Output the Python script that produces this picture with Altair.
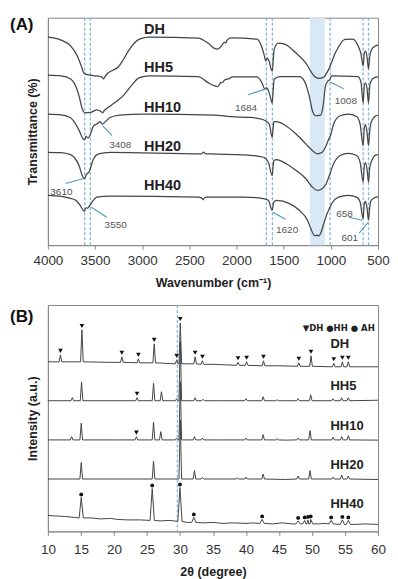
import altair as alt
import pandas as pd

# ---------------- Panel A: FTIR (wavenumber, transmittance in arbitrary offset units) ----------------
samples = ["DH", "HH5", "HH10", "HH20", "HH40"]

dh_wn = [4000, 3860, 3757, 3688, 3646, 3619, 3567, 3480, 3430, 3410, 3390, 3376, 3307, 3255, 3203, 3134, 3030, 2926,
         2407, 2303, 2240, 2200, 2160, 2130, 2115, 2100, 2061, 1784, 1740, 1710, 1690, 1675, 1655, 1630, 1620, 1610,
         1600, 1559, 1490, 1369, 1265, 1178, 1127, 1075, 1023, 953, 850, 763, 711, 680, 658, 645, 632, 615, 601, 588,
         565, 530, 500]
dh_t = [209, 206, 200, 190, 180, 173, 171, 170, 169, 167, 170, 171.7, 176, 179, 186, 197, 207, 209,
        208, 203, 198, 197, 200, 204, 203, 206, 208.3, 207, 201, 192, 185, 188, 185, 176, 175, 188,
        197, 203, 202, 193, 183, 170, 167.5, 169, 176.7, 193, 206.7, 207, 200, 192, 180, 193, 195, 188, 177, 190,
        197, 200, 201]

hh5_wn = [4000, 3860, 3760, 3722, 3670, 3636, 3610, 3549, 3480, 3440, 3420, 3400, 3376, 3290, 3203, 3117, 3030, 2926,
          2407, 2303, 2234, 2200, 2165, 2140, 2131, 2079, 2044, 1784, 1732, 1700, 1684, 1670, 1645, 1622, 1612, 1601,
          1542, 1334, 1282, 1230, 1196, 1161, 1109, 1082, 1057, 1030, 1012, 1000, 988, 711, 680, 658, 645, 632, 615,
          601, 588, 573, 538, 500]
hh5_t = [170.7, 170, 167, 163, 150, 137, 133, 133.3, 136, 134.5, 133, 135.5, 137.3, 143.3, 150, 160, 168.3, 170,
         169.3, 163.3, 160, 159.3, 163.3, 164, 165.7, 167.3, 169, 169, 163.3, 157, 158, 157, 150, 142.7, 155, 166.7,
         169.3, 169.3, 165, 150, 135, 130, 130.7, 140, 160, 165, 166, 169, 170, 169.3, 163, 142.7, 160, 163, 156,
         142.7, 160, 165, 168.3, 169]

hh10_wn = [4000, 3860, 3760, 3722, 3660, 3630, 3610, 3595, 3575, 3555, 3515, 3480, 3445, 3425, 3408, 3380, 3342, 3238,
           2995, 2234, 2061, 1854, 1715, 1684, 1653, 1622, 1612, 1604, 1577, 1490, 1369, 1265, 1196, 1144, 1092, 1050,
           1020, 1008, 971, 902, 815, 728, 690, 658, 645, 632, 615, 601, 588, 573, 521, 500]
hh10_t = [131.7, 131, 128, 124, 113.3, 107, 106, 109.3, 107.5, 110, 120, 121.7, 124, 121.7, 122.5, 125, 128.3, 130.7,
          131.7, 130.7, 129, 128.3, 126, 124.5, 121.7, 108.3, 118, 124, 124, 120.7, 111.7, 101.7, 95, 91.7, 93.3, 100,
          107, 109, 121.7, 130, 131.7, 129.3, 121.7, 100, 118, 121, 112, 100, 115, 123.3, 130, 130.5]

hh20_wn = [4000, 3860, 3760, 3722, 3670, 3636, 3612, 3595, 3575, 3560, 3549, 3515, 3463, 3342, 2372, 2350, 2330, 2269,
           1923, 1715, 1663, 1622, 1612, 1604, 1577, 1473, 1369, 1265, 1196, 1144, 1092, 1050, 1016, 971, 902, 815,
           728, 690, 658, 645, 632, 615, 601, 588, 573, 521, 500]
hh20_t = [93.3, 93, 91, 88.3, 80, 70, 66.7, 70.5, 72.5, 74, 77.3, 86.7, 91.7, 93.3, 91.7, 93.5, 92, 91.7,
          90.7, 88.3, 83.3, 70, 80, 85, 86, 81.7, 75, 66.7, 58.3, 55, 56.7, 61.7, 70, 81.7, 90, 92.3,
          90, 83.3, 63.3, 80, 83, 75, 63.3, 78, 83.3, 90.7, 91]

hh40_wn = [4000, 3860, 3760, 3705, 3653, 3615, 3595, 3580, 3567, 3532, 3480, 3342, 2407, 2370, 2355, 2340, 2320, 2269,
           1923, 1715, 1663, 1622, 1612, 1604, 1577, 1438, 1334, 1248, 1213, 1178, 1160, 1144, 1130, 1109, 1075, 1040,
           1016, 981, 919, 815, 728, 690, 658, 645, 632, 615, 601, 588, 573, 521, 500]
hh40_t = [50, 49, 47, 45, 39.3, 34, 37.5, 37, 38.3, 43.3, 48.3, 49.3, 48.3, 47.5, 45.5, 47.5, 48.3, 48.3,
          48.3, 46.7, 45, 35, 40, 43.3, 45, 41.7, 35, 25, 16.7, 10, 9.5, 10, 9, 11.7, 21.7, 31.7,
          36.7, 43.3, 48.3, 50, 48.3, 43.3, 26.7, 42, 44, 36, 25, 38, 45, 48.3, 48.5]

ftir_wn = [dh_wn, hh5_wn, hh10_wn, hh20_wn, hh40_wn]
ftir_t = [dh_t, hh5_t, hh10_t, hh20_t, hh40_t]

ftir_label_y = [212, 173.5, 133.5, 95, 55]
ftir_label_x = 2980

dashed_wn = [3610, 3550, 1684, 1620, 1008, 658, 601]
band_wn = [1222, 1065]

ann_text = ["3408", "3610", "3550", "1684", "1008", "1620", "658", "601"]
ann_tx = [3233, 3857, 3281, 1900, 841, 1464, 856, 800]
ann_ty = [101, 53, 20, 138, 145, 15, 31, 7]
lead_x1 = [3420, 3810, 3540, 1880, 1010, 1615, 810, 700]
lead_y1 = [120, 62, 38, 151, 164, 33, 28, 12]
lead_x2 = [3320, 3620, 3375, 1690, 860, 1480, 665, 604]
lead_y2 = [110, 67, 28, 157, 157, 26, 25, 23]

# ---------------- Panel B: XRD (2theta, intensity in offset units) ----------------
xrd_anchor_x = {
    "DH": [10, 19, 35, 45, 60],
    "HH5": [10, 20, 36, 46, 60],
    "HH10": [10, 20, 36, 46, 60],
    "HH20": [10, 20, 36, 46, 60],
    "HH40": [10, 11, 12.5, 14, 16.5, 18, 19.5, 20.5, 22, 24, 27, 28.5, 31, 33.5, 35, 36.5, 38, 40, 41, 44, 45.5,
             47, 51, 52, 56.5, 58, 60],
}
xrd_anchor_y = {
    "DH": [170, 169.5, 167.5, 166, 165],
    "HH5": [131, 131, 131, 131, 131.5],
    "HH10": [91.7, 91.7, 91.7, 91.5, 91.5],
    "HH20": [52.5, 52.5, 52.5, 52, 52],
    "HH40": [16, 15.5, 15, 14, 13.5, 12.5, 13, 12, 11.5, 11.5, 10.5, 11, 9, 8.5, 9, 8, 8.5, 8, 8.5, 7.5, 8.5,
             7.5, 7.5, 8, 7, 7.5, 7],
}
xrd_peak_pos = {
    "DH": [11.9, 15.15, 21.2, 23.7, 26.1, 29.5, 30.05, 32.3, 33.4, 38.8, 40.1, 42.65, 48.0, 49.85, 53.3, 54.6, 55.5],
    "HH5": [13.7, 15.1, 23.5, 26.0, 27.2, 29.5, 30.05, 32.3, 33.5, 40.0, 42.6, 44.7, 47.9, 49.8, 53.2, 54.5, 55.5],
    "HH10": [13.6, 15.05, 23.4, 26.0, 27.1, 29.5, 30.05, 32.2, 33.4, 40.0, 42.6, 44.7, 47.9, 49.7, 53.2, 54.5, 55.5],
    "HH20": [15.05, 26.0, 30.05, 32.2, 33.4, 38.7, 40.0, 42.6, 47.9, 49.7, 53.2, 54.5, 55.5],
    "HH40": [15.05, 25.8, 30.0, 32.1, 42.45, 47.9, 48.9, 49.4, 49.8, 52.9, 54.6, 55.5],
}
xrd_peak_top = {
    "DH": [177, 202, 175, 173, 188, 172, 209, 175, 171, 169.5, 170, 171, 169, 176, 168.5, 170, 170],
    "HH5": [134, 150, 134, 148.5, 140, 133, 190, 134, 132.5, 133, 135, 132, 133, 137, 133, 134, 134],
    "HH10": [95, 108.5, 95, 109.5, 100, 93.5, 150, 95, 93.5, 93.5, 97, 93, 93.5, 101, 94.5, 95, 96],
    "HH20": [69, 70.5, 112, 61, 54, 53.5, 54.5, 57.5, 55.5, 61, 54.5, 56.5, 55.5],
    "HH40": [34, 43, 44, 14, 12, 10.5, 11, 11.5, 12, 11, 11.5, 11],
}
xrd_peak_base = {
    "DH": [170, 170, 169.5, 169, 169, 168, 168, 168, 167.5, 166.5, 166.5, 166, 165.5, 165.5, 165, 165, 165],
    "HH5": [131] * 17,
    "HH10": [91.7] * 17,
    "HH20": [52.5] * 13,
    "HH40": [13.5, 11, 10, 9, 8, 7.5, 7.5, 7.5, 7.5, 7.5, 7, 7],
}
dh_mark_pos = xrd_peak_pos["DH"]
hh5_mark_pos = [23.5]
hh10_mark_pos = [23.4]
hh40_mark_pos = xrd_peak_pos["HH40"]
xrd_label_y = [183.5, 141.7, 101.7, 62.3, 23.3]
xrd_label_x = 52.8
xrd_dashed = [29.6]

# ---------------- build tables ----------------
FONT = "Liberation Sans"
LINE = "#444444"
BLUE_DASH = "#86b6d9"
LEAD = "#4f9ab8"

rows = []
for s, wn, t in zip(samples, ftir_wn, ftir_t):
    for a, b in zip(wn, t):
        rows.append({"s": s, "x": a, "y": b})
ftir_df = pd.DataFrame(rows)

W = 331
xA = alt.Scale(domain=[4000, 500], nice=False, zero=False)
yA = alt.Scale(domain=[0, 228.5], nice=False, zero=False)
axA_x = alt.Axis(values=[4000, 3500, 3000, 2500, 2000, 1500, 1000, 500], title="Wavenumber (cm\u207b\u00b9)",
                 grid=False, labelFontSize=13.5, labelColor="#333", labelFont=FONT, tickSize=4,
                 tickColor="#888", domainColor="#888", labelPadding=4, titleFont=FONT, titleFontSize=12.5,
                 titleFontWeight="bold", titleColor="#222", titlePadding=9.5, format="d", labelFlush=False)
axA_y = alt.Axis(labels=False, ticks=False, grid=False, title="Transmittance (%)", titleFont=FONT,
                 titleFontSize=12.5, titleFontWeight="bold", titleColor="#222", domainColor="#888", titlePadding=8)

HA = 228
band = alt.Chart(pd.DataFrame({"x": [band_wn[0]], "x2": [band_wn[1]]})).mark_rect(
    color="#d8e8f5").encode(x=alt.X("x:Q", scale=xA, axis=axA_x), x2="x2:Q", y=alt.value(0), y2=alt.value(HA))
dashA = alt.Chart(pd.DataFrame({"x": dashed_wn})).mark_rule(
    color=BLUE_DASH, strokeDash=[3, 2], strokeWidth=1.3).encode(x=alt.X("x:Q", scale=xA, axis=axA_x),
                                                                 y=alt.value(0), y2=alt.value(HA))
linesA = alt.Chart(ftir_df).mark_line(color=LINE, strokeWidth=1.25, interpolate="monotone").encode(
    x=alt.X("x:Q", scale=xA, axis=axA_x), y=alt.Y("y:Q", scale=yA, axis=axA_y), detail="s:N", order="x:Q")
labA = alt.Chart(pd.DataFrame({"x": [ftir_label_x] * 5, "y": ftir_label_y, "t": samples})).mark_text(
    align="left", baseline="alphabetic", font=FONT, fontSize=14.5, fontWeight="bold", color="#222").encode(
    x=alt.X("x:Q", scale=xA, axis=axA_x), y=alt.Y("y:Q", scale=yA, axis=axA_y), text="t:N")
leadA = alt.Chart(pd.DataFrame({"x": lead_x1, "y": lead_y1, "x2": lead_x2, "y2": lead_y2})).mark_rule(
    color=LEAD, strokeWidth=1.1).encode(x=alt.X("x:Q", scale=xA, axis=axA_x), y=alt.Y("y:Q", scale=yA, axis=axA_y),
                                        x2="x2:Q", y2="y2:Q")
annA = alt.Chart(pd.DataFrame({"x": ann_tx, "y": ann_ty, "t": ann_text})).mark_text(
    align="center", baseline="middle", font=FONT, fontSize=10, color="#555").encode(
    x=alt.X("x:Q", scale=xA, axis=axA_x), y=alt.Y("y:Q", scale=yA, axis=axA_y), text="t:N")
tagA = alt.Chart(pd.DataFrame({"t": ["(A)"]})).mark_text(
    align="left", baseline="alphabetic", font=FONT, fontSize=17, fontWeight="bold", color="#111").encode(
    x=alt.value(-38), y=alt.value(12), text="t:N")

panelA = alt.layer(band, dashA, linesA, leadA, annA, labA, tagA).properties(width=W, height=HA)

# XRD tables
xrd_rows = []
for s in samples:
    hw = 0.32 if s == "HH40" else 0.2
    pts = list(zip(xrd_anchor_x[s], xrd_anchor_y[s]))
    for p, t, b in zip(xrd_peak_pos[s], xrd_peak_top[s], xrd_peak_base[s]):
        pts += [(p - hw, b), (p, t), (p + hw, b)]
    pts.sort()
    for a, b in pts:
        xrd_rows.append({"s": s, "x": a, "y": b})
xrd_df = pd.DataFrame(xrd_rows)

mk = []
for s, lst, ph in [("DH", dh_mark_pos, "DH"), ("HH5", hh5_mark_pos, "DH"), ("HH10", hh10_mark_pos, "DH"),
                   ("HH40", hh40_mark_pos, "HH")]:
    for p in lst:
        i = xrd_peak_pos[s].index(p)
        mk.append({"x": p, "y": xrd_peak_top[s][i], "ph": ph})
mk_df = pd.DataFrame(mk)

xB = alt.Scale(domain=[10, 60], nice=False, zero=False)
yB = alt.Scale(domain=[0, 227], nice=False, zero=False)
axB_x = alt.Axis(values=list(range(10, 61, 5)), title="2\u03b8 (degree)", grid=False, labelFontSize=13.5,
                 labelColor="#333", labelFont=FONT, tickSize=4, tickColor="#888", domainColor="#888",
                 labelPadding=7, titleFont=FONT, titleFontSize=12.5, titleFontWeight="bold", titleColor="#222",
                 titlePadding=10, labelFlush=False)
axB_y = alt.Axis(labels=False, ticks=False, grid=False, title="Intensity (a.u.)", titleFont=FONT,
                 titleFontSize=12.5, titleFontWeight="bold", titleColor="#222", domainColor="#888", titlePadding=8)
HB = 227

dashB = alt.Chart(pd.DataFrame({"x": xrd_dashed})).mark_rule(
    color=BLUE_DASH, strokeDash=[3, 2], strokeWidth=1.2).encode(x=alt.X("x:Q", scale=xB, axis=axB_x),
                                                                 y=alt.value(0), y2=alt.value(HB))
linesB = alt.Chart(xrd_df).mark_line(color=LINE, strokeWidth=1.0).encode(
    x=alt.X("x:Q", scale=xB, axis=axB_x), y=alt.Y("y:Q", scale=yB, axis=axB_y), detail="s:N", order="x:Q")
triB = alt.Chart(mk_df[mk_df.ph == "DH"]).mark_point(
    shape="triangle-down", filled=True, color="#111", size=22, yOffset=-4, opacity=1).encode(
    x=alt.X("x:Q", scale=xB, axis=axB_x), y=alt.Y("y:Q", scale=yB, axis=axB_y))
cirB = alt.Chart(mk_df[mk_df.ph == "HH"]).mark_point(
    shape="circle", filled=True, color="#111", size=15, yOffset=-3, opacity=1).encode(
    x=alt.X("x:Q", scale=xB, axis=axB_x), y=alt.Y("y:Q", scale=yB, axis=axB_y))
labB = alt.Chart(pd.DataFrame({"x": [xrd_label_x] * 5, "y": xrd_label_y, "t": samples})).mark_text(
    align="left", baseline="alphabetic", font=FONT, fontSize=13, fontWeight="bold", color="#222").encode(
    x=alt.X("x:Q", scale=xB, axis=axB_x), y=alt.Y("y:Q", scale=yB, axis=axB_y), text="t:N")
legB = alt.Chart(pd.DataFrame({"x": [59.5], "y": [201], "t": ["\u25bcDH  \u25cfHH  \u25cf AH"]})).mark_text(
    align="right", baseline="alphabetic", font="DejaVu Sans", fontSize=8.5, fontWeight="bold", color="#222").encode(
    x=alt.X("x:Q", scale=xB, axis=axB_x), y=alt.Y("y:Q", scale=yB, axis=axB_y), text="t:N")
tagB = alt.Chart(pd.DataFrame({"t": ["(B)"]})).mark_text(
    align="left", baseline="alphabetic", font=FONT, fontSize=17, fontWeight="bold", color="#111").encode(
    x=alt.value(-38), y=alt.value(17), text="t:N")

panelB = alt.layer(dashB, linesB, triB, cirB, labB, legB, tagB).properties(width=W, height=HB)

chart = alt.vconcat(panelA, panelB, spacing=14).properties(
    padding={"left": 1, "top": 6, "right": 0, "bottom": 0}, background="white"
).configure_view(stroke="#888", strokeWidth=1)

chart.save("out.html", embed_options={"renderer": "svg", "actions": False})
